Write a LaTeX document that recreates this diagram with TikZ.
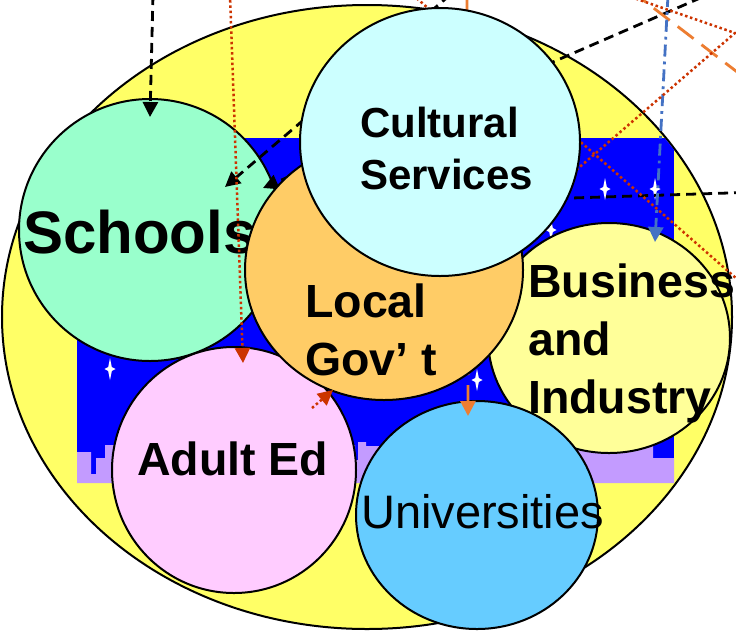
\documentclass[tikz,border=0pt]{standalone}
\usepackage{fontspec}
\setmainfont{Liberation Sans}
\usetikzlibrary{shapes.geometric,arrows.meta,calc}
\definecolor{ringyellow}{HTML}{FFFF66}
\definecolor{nightblue}{HTML}{0000FF}
\definecolor{skyline}{HTML}{C39BFF}
\definecolor{schoolgreen}{HTML}{99FFCC}
\definecolor{culturecyan}{HTML}{CCFFFF}
\definecolor{govorange}{HTML}{FFCC66}
\definecolor{bizyellow}{HTML}{FFFF99}
\definecolor{adultpink}{HTML}{FFCCFF}
\definecolor{unisky}{HTML}{66CCFF}
\definecolor{linkred}{HTML}{CC3300}
\definecolor{linkorange}{HTML}{ED7D31}
\definecolor{linkblue}{HTML}{4472C4}
\begin{document}
\begin{tikzpicture}[x=1pt,y=-1pt,
    circ/.style={ellipse,draw,line width=2pt,inner sep=0pt},
    lbl/.style={anchor=base west,inner sep=0pt,font=\bfseries\fontsize{46.5}{50}\selectfont},
    tip/.style={-{Triangle[length=15pt,width=15pt]}},
    blackdash/.style={line width=2.8pt,dash pattern=on 10pt off 6pt},
    reddot/.style={linkred,line width=2.5pt,dash pattern=on 2.5pt off 2.7pt},
    orangedash/.style={linkorange,line width=2.8pt,dash pattern=on 20pt off 10pt},
    bluedashdot/.style={linkblue,line width=2.8pt,dash pattern=on 12pt off 5pt on 2.8pt off 5pt}]
  \clip (0,0) rectangle (736,630);
  \fill[white] (0,0) rectangle (736,630);
  \draw[fill=ringyellow,line width=2pt] (367,317) ellipse [x radius=365,y radius=312];
  \begin{scope}
    \clip (367,317) ellipse [x radius=364,y radius=311];
    \fill[nightblue] (77,138) rectangle (674,483);
    \fill[skyline] (77,483) -- (77,452) -- (91,452) -- (91,474) -- (96,474) -- (96,458)
      -- (105,458) -- (105,445) -- (355,445) -- (355,460) -- (358,460) -- (358,442)
      -- (366,442) -- (366,446) -- (653,446) -- (653,458) -- (674,458) -- (674,483) -- cycle;
    \foreach \sx/\sy in {110/369,605/189,655/189,551/230,477/380}
      \fill[white,shift={(\sx,\sy)}] (0,-11) -- (1.8,-2) -- (5.5,0) -- (1.8,2) -- (0,11)
        -- (-1.8,2) -- (-5.5,0) -- (-1.8,-2) -- cycle;
  \end{scope}

  \coordinate (dropA) at (450,-5);
  \coordinate (dropB) at (760,-28);
  \coordinate (dropC) at (153,-5);
  \coordinate (dropD) at (467,-5);
  \coordinate (dropE) at (668,-5);
  \coordinate (dropF) at (230,-5);
  \coordinate (redA1) at (405,-12);
  \coordinate (redA2) at (745,286);
  \coordinate (redB1) at (631,-3);
  \coordinate (redB2) at (735,33);
  \coordinate (redB3) at (560,184);
  \coordinate (orA1) at (630,-10);
  \coordinate (orA2) at (745,78);
  \coordinate (ruleA) at (760,192);
  \coordinate (ruleB) at (540,199);

  \node[circ,fill=schoolgreen,minimum width=262,minimum height=262] (schools) at (150,230) {};
  \node[lbl,font=\bfseries\fontsize{60}{64}\selectfont] (schoolsText) at (23,253) {Schools};
  \node[circ,fill=adultpink,minimum width=244,minimum height=246] (adult) at (234,470) {};
  \node[lbl] (adultText) at (137,475) {Adult Ed};
  \node[circ,fill=bizyellow,minimum width=242,minimum height=230] (business) at (609,338) {};
  \node[lbl] (businessText1) at (528,297) {Business};
  \node[lbl] (businessText2) at (528,355) {and};
  \node[lbl] (businessText3) at (528,413) {Industry};
  \node[circ,fill=unisky,minimum width=242,minimum height=228] (unis) at (477,515) {};
  \node[lbl,font=\fontsize{47}{50}\selectfont] (unisText) at (361,528) {Universities};

  \draw[blackdash,tip] (dropA) -- ($(schools.center)+(75,-43)$);
  \draw[blackdash,tip] (dropB) -- ($(schools.center)+(113,-42)$);
  \draw[blackdash,tip] (dropC) -- ($(schools.center)+(0,-113)$);
  \draw[blackdash] (ruleA) -- (ruleB);
  \draw[orangedash,tip] (dropD) -- ($(unis.center)+(-9,-99)$);
  \draw[orangedash] (orA1) -- (orA2);
  \draw[bluedashdot,tip] (dropE) -- ($(business.center)+(46,-96)$);
  \draw[reddot] (redA1) -- (redA2);
  \draw[reddot] (redB1) -- (redB2) -- (redB3);

  \node[circ,fill=govorange,minimum width=278,minimum height=260] (localgov) at (384,270) {};
  \node[lbl] (localText1) at (305,317) {Local};
  \node[lbl] (localText2) at (305,375) {Gov’ t};
  \node[circ,fill=culturecyan,minimum width=280,minimum height=268] (cultural) at (440,142) {};
  \node[lbl,font=\bfseries\fontsize{42}{46}\selectfont] (culturalText1) at (360,137) {Cultural};
  \node[lbl,font=\bfseries\fontsize{42}{46}\selectfont] (culturalText2) at (360,189) {Services};

  \draw[reddot,tip] (dropF) -- ($(adult.center)+(9,-107)$);
  \draw[reddot,tip] ($(adult.center)+(78,-62)$) -- ($(localgov.center)+(-51,120)$);
\end{tikzpicture}
\end{document}
